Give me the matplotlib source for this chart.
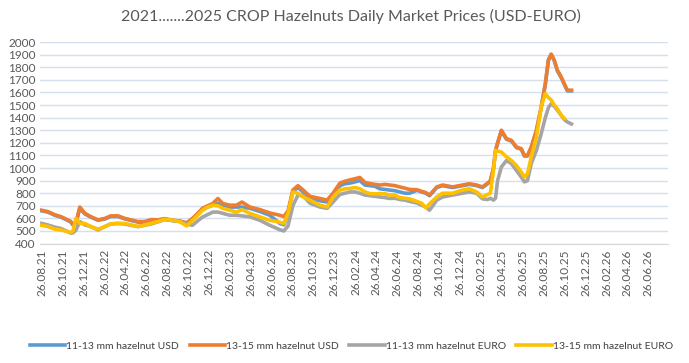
import pandas as pd
import matplotlib
matplotlib.use('Agg')
import matplotlib.pyplot as plt
import matplotlib.dates as mdates

plt.rcParams['font.family'] = ['Lato', 'DejaVu Sans']

dates = ['2021-08-26', '2021-09-13', '2021-10-04', '2021-10-21', '2021-11-10', '2021-11-19',
         '2021-11-25', '2021-12-04', '2021-12-15', '2021-12-30', '2022-01-16', '2022-02-06',
         '2022-02-26', '2022-03-15', '2022-04-05', '2022-04-25', '2022-05-13', '2022-06-02',
         '2022-06-22', '2022-07-10', '2022-07-30', '2022-08-19', '2022-09-11', '2022-10-01',
         '2022-10-22', '2022-11-08', '2022-11-23', '2022-12-07', '2022-12-22', '2023-01-06',
         '2023-01-21', '2023-02-04', '2023-02-24', '2023-03-16', '2023-04-01', '2023-04-24',
         '2023-05-23', '2023-06-21', '2023-07-20', '2023-08-01', '2023-08-13', '2023-08-27',
         '2023-09-11', '2023-09-26', '2023-10-16', '2023-11-14', '2023-12-05', '2023-12-22',
         '2024-01-11', '2024-01-26', '2024-02-09', '2024-02-24', '2024-03-09', '2024-03-24',
         '2024-04-07', '2024-04-22', '2024-05-06', '2024-05-21', '2024-06-04', '2024-06-19',
         '2024-07-03', '2024-07-18', '2024-08-01', '2024-08-22', '2024-09-05', '2024-09-17',
         '2024-09-28', '2024-10-19', '2024-11-05', '2024-12-04', '2025-01-02', '2025-01-22',
         '2025-02-12', '2025-03-01', '2025-03-16', '2025-03-24', '2025-04-02', '2025-04-08',
         '2025-04-14', '2025-04-25', '2025-05-10', '2025-05-24', '2025-06-08', '2025-06-22',
         '2025-07-01', '2025-07-10', '2025-07-21', '2025-08-05', '2025-08-19', '2025-08-31',
         '2025-09-09', '2025-09-17', '2025-09-26', '2025-10-05', '2025-10-16', '2025-10-25',
         '2025-11-03', '2025-11-15']

usd_13_15 = [665, 654, 628, 614, 588, 575, 550, 570, 690, 640, 614, 588,
             600, 620, 620, 600, 588, 575, 575, 590, 588, 598, 585, 580,
             565, 600, 640, 680, 700, 718, 758, 718, 705, 705, 730, 690,
             670, 643, 625, 615, 660, 825, 860, 825, 775, 758, 745, 800,
             880, 895, 905, 915, 925, 885, 877, 870, 865, 870, 865, 860,
             850, 840, 830, 828, 815, 805, 785, 850, 865, 850, 865, 875,
             865, 850, 880, 900, 1000, 1140, 1200, 1300, 1233, 1220, 1167, 1154,
             1100, 1100, 1167, 1300, 1485, 1670, 1860, 1905, 1857, 1777, 1724, 1670,
             1618, 1618]

usd_11_13 = [660, 650, 624, 610, 584, 570, 548, 565, 680, 635, 610, 585,
             595, 615, 615, 596, 584, 570, 570, 586, 585, 595, 583, 578,
             562, 595, 635, 670, 690, 705, 718, 705, 690, 690, 690, 680,
             655, 625, 560, 550, 640, 815, 845, 810, 760, 740, 730, 785,
             860, 875, 880, 890, 900, 865, 860, 855, 835, 830, 825, 820,
             810, 800, 800, 823, 810, 800, 780, 845, 860, 845, 860, 870,
             860, 845, 875, 895, 995, 1135, 1195, 1295, 1228, 1215, 1162, 1149,
             1095, 1095, 1162, 1295, 1480, 1665, 1855, 1900, 1852, 1772, 1719, 1665,
             1613, 1613]

eur_11_13 = [560, 548, 530, 520, 495, 482, 485, 508, 575, 548, 535, 508,
             535, 556, 560, 555, 545, 535, 545, 555, 572, 590, 583, 575,
             555, 545, 580, 610, 630, 650, 650, 640, 625, 625, 620, 612,
             585, 545, 510, 500, 540, 700, 785, 780, 720, 690, 680, 730,
             790, 800, 810, 810, 800, 785, 780, 775, 770, 765, 758, 760,
             750, 745, 735, 722, 705, 690, 665, 745, 770, 785, 800, 810,
             800, 755, 750, 760, 745, 760, 900, 1008, 1060, 1035, 980, 928,
             890, 900, 1035, 1140, 1273, 1400, 1480, 1510, 1490, 1460, 1420, 1385,
             1366, 1350]

eur_13_15 = [545, 535, 514, 508, 495, 487, 500, 600, 560, 560, 535, 514,
             535, 556, 560, 560, 548, 535, 548, 560, 575, 593, 585, 575,
             540, 585, 625, 665, 690, 705, 700, 680, 665, 650, 670, 640,
             612, 585, 570, 560, 640, 810, 800, 770, 745, 705, 690, 770,
             825, 835, 838, 845, 835, 810, 797, 795, 797, 795, 785, 785,
             765, 760, 755, 735, 720, 685, 715, 770, 800, 800, 825, 835,
             810, 770, 790, 800, 980, 1140, 1135, 1127, 1088, 1060, 1020, 968,
             928, 955, 1088, 1247, 1485, 1590, 1560, 1540, 1500, 1472, 1419, 1395,
             None, None]

series = [
    ('11-13 mm hazelnut USD', usd_11_13, '#5B9BD5'),
    ('13-15 mm hazelnut USD', usd_13_15, '#ED7D31'),
    ('11-13 mm hazelnut EURO', eur_11_13, '#A5A5A5'),
    ('13-15 mm hazelnut EURO', eur_13_15, '#FFC000'),
]

x = pd.to_datetime(dates)
# ticks every two months on the 26th: 26.08.21 ... 26.06.26
tick_dates = pd.date_range('2021-08-01', '2026-06-01', freq='2MS') + pd.Timedelta(days=25)

fig = plt.figure(figsize=(6.89, 3.63), dpi=100)
ax = fig.add_axes([0.058, 0.329, 0.912, 0.555])

for name, vals, color in series:
    y = pd.Series(vals, dtype=float)
    ax.plot(x, y, color=color, lw=2.6, label=name, solid_joinstyle='round')

ax.set_ylim(400, 2000)
ax.set_yticks(range(400, 2001, 100))
ax.set_xlim(pd.Timestamp('2021-08-21'), pd.Timestamp('2026-08-24'))
ax.set_xticks(tick_dates)
ax.xaxis.set_major_formatter(mdates.DateFormatter('%d.%m.%y'))
ax.tick_params(axis='x', rotation=90, length=0, labelsize=8.5, colors='#595959', pad=4)
ax.tick_params(axis='y', length=0, labelsize=8.5, colors='#595959', pad=3)
ax.grid(axis='y', color='#D5E0EC', lw=1)
ax.set_axisbelow(True)
for s in ['top', 'right', 'left']:
    ax.spines[s].set_visible(False)
ax.spines['bottom'].set_color('#D9D9D9')

fig.suptitle('2021.......2025 CROP Hazelnuts Daily Market Prices (USD-EURO)',
             x=0.51, y=0.975, fontsize=11.5, color='#595959')

fig.legend(loc='center', bbox_to_anchor=(0.51, 0.047), ncol=4, frameon=False,
           fontsize=7.5, handlelength=3.4, handletextpad=0.1, columnspacing=1.0,
           labelcolor='#404040')

fig.savefig('out.png', dpi=100)
